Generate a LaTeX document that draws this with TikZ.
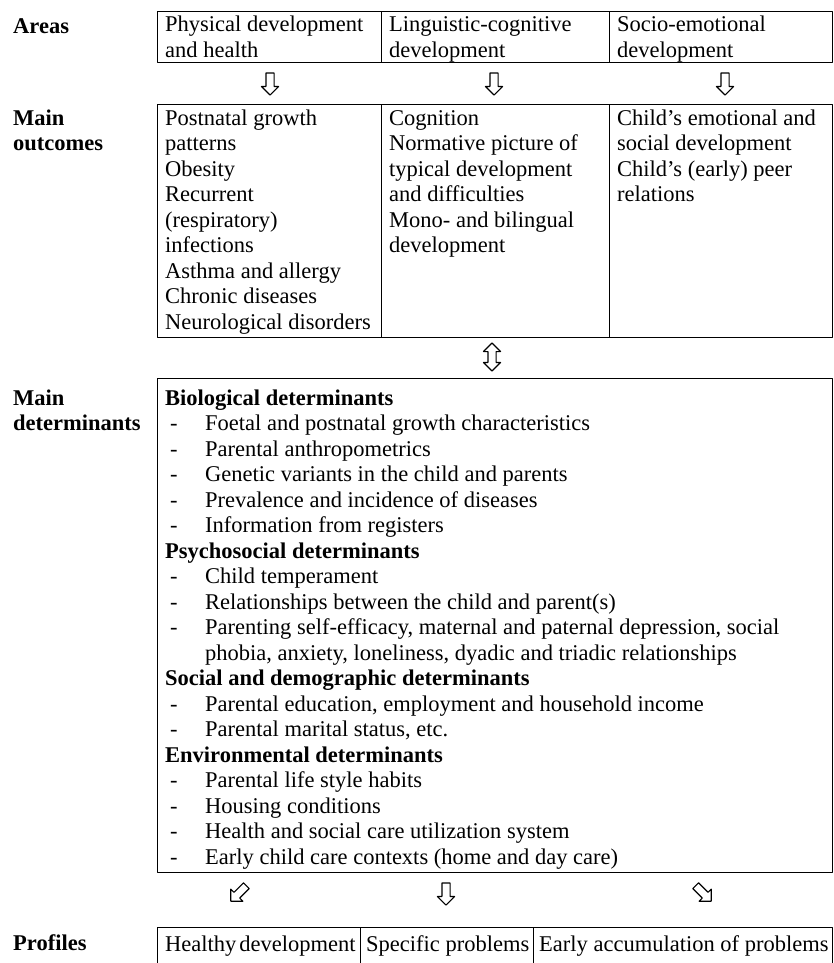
\documentclass[tikz,border=0pt]{standalone}
\usepackage{fontspec}
\setmainfont{Liberation Serif}
\usetikzlibrary{shapes.arrows}

\newcommand{\dsh}{\makebox[40pt][l]{\hspace{5pt}-}}

\begin{document}
\begin{tikzpicture}[x=1pt, y=-1pt, line cap=round, line join=round,
  cell/.style={draw, line width=1.1pt, inner sep=0pt, anchor=north west},
  txt/.style={anchor=base west, inner sep=0pt, font=\fontsize{22.5}{25.5}\selectfont},
  lbl/.style={txt, font=\fontsize{22.5}{25.5}\selectfont\bfseries},
  blk/.style={draw, line width=1.1pt, single arrow, minimum height=22pt, minimum width=16pt,
    single arrow head extend=4.5pt, single arrow tip angle=90, inner sep=3.5pt, rotate=-90},
  dblk/.style={draw, line width=1.1pt, double arrow, minimum height=28pt, minimum width=16pt,
    double arrow head extend=4.5pt, double arrow tip angle=90, inner sep=3.5pt, rotate=90}]

\useasboundingbox (0,0) rectangle (833,963);

% Etichette a sinistra
\node[lbl] (areas) at (13,34) {Areas};
\node[lbl] (outc) at (13,125) {Main};
\node[lbl] (outcb) at (13,150.5) {outcomes};
\node[lbl] (dets) at (13,405) {Main};
\node[lbl] (detsb) at (13,430.5) {determinants};
\node[lbl] (prof) at (13,950) {Profiles};

% Aree
\node[cell, minimum width=224pt, minimum height=51pt] (ca1) at (157,11) {};
\node[cell, minimum width=228pt, minimum height=51pt] (ca2) at (381,11) {};
\node[cell, minimum width=223pt, minimum height=51pt] (ca3) at (609,11) {};
\foreach \x/\a/\b [count=\i] in {165/Physical development/and health,
    389/Linguistic-cognitive/development, 617/Socio-emotional/development} {
  \node[txt] (area\i) at (\x,32) {\a};
  \node[txt] (areab\i) at (\x,57.5) {\b};
}

% Frecce verso gli esiti
\node[blk] (fa1) at (270,82) {};
\node[blk] (fa2) at (494,82) {};
\node[blk] (fa3) at (725,82) {};

% Esiti principali
\node[cell, minimum width=224pt, minimum height=233pt] (co1) at (157,104) {};
\node[cell, minimum width=228pt, minimum height=233pt] (co2) at (381,104) {};
\node[cell, minimum width=223pt, minimum height=233pt] (co3) at (609,104) {};
\foreach \t [count=\i from 0] in {Postnatal growth, patterns, Obesity, Recurrent,
    (respiratory), infections, Asthma and allergy, Chronic diseases, Neurological disorders}
  \node[txt] (oa\i) at (165,{125+25.5*\i}) {\t};
\foreach \t [count=\i from 0] in {Cognition, Normative picture of, typical development,
    and difficulties, Mono- and bilingual, development}
  \node[txt] (ob\i) at (389,{125+25.5*\i}) {\t};
\foreach \t [count=\i from 0] in {Child’s emotional and, social development,
    Child’s (early) peer, relations}
  \node[txt] (oc\i) at (617,{125+25.5*\i}) {\t};

\node[dblk] (fd) at (492,357) {};

% Determinanti
\node[cell, minimum width=675pt, minimum height=494pt] (cd) at (157,378) {};
\foreach \t [count=\i from 0] in {\textbf{Biological determinants},
    \dsh Foetal and postnatal growth characteristics,
    \dsh Parental anthropometrics,
    \dsh Genetic variants in the child and parents,
    \dsh Prevalence and incidence of diseases,
    \dsh Information from registers,
    \textbf{Psychosocial determinants},
    \dsh Child temperament,
    \dsh Relationships between the child and parent(s),
    {\dsh Parenting self-efficacy, maternal and paternal depression, social},
    {\hspace*{40pt}phobia, anxiety, loneliness, dyadic and triadic relationships},
    \textbf{Social and demographic determinants},
    {\dsh Parental education, employment and household income},
    {\dsh Parental marital status, etc.},
    \textbf{Environmental determinants},
    \dsh Parental life style habits,
    \dsh Housing conditions,
    \dsh Health and social care utilization system,
    \dsh Early child care contexts (home and day care)}
  \node[txt] (d\i) at (165,{405+25.5*\i}) {\t};

% Frecce verso i profili
\node[blk, rotate=-45] (fp1) at (240,892) {};
\node[blk] (fp2) at (446,892) {};
\node[blk, rotate=45] (fp3) at (702,892) {};

% Profili
\node[cell, minimum width=203pt, minimum height=60pt] (cp1) at (157,927) {};
\node[cell, minimum width=173pt, minimum height=60pt] (cp2) at (360,927) {};
\node[cell, minimum width=299pt, minimum height=60pt] (cp3) at (533,927) {};
\node[txt] (pr1) at (165,951) {Healthy\hspace{3pt}development};
\node[txt] (pr2) at (366,951) {Specific problems};
\node[txt] (pr3) at (539,951) {Early accumulation of problems};

\end{tikzpicture}
\end{document}
